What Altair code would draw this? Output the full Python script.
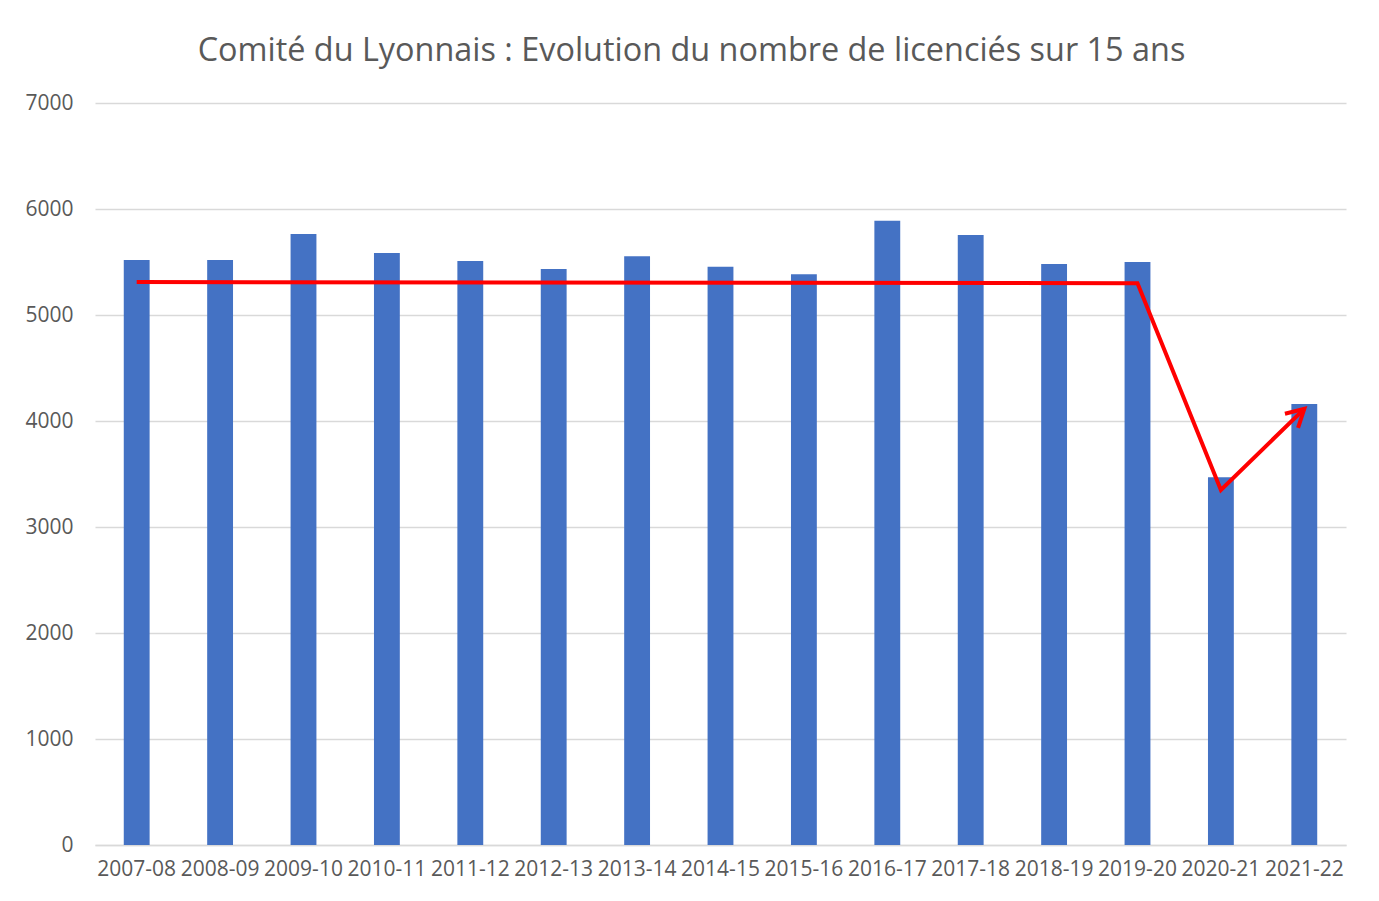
import altair as alt
import pandas as pd

saisons = ["2007-08", "2008-09", "2009-10", "2010-11", "2011-12", "2012-13", "2013-14",
           "2014-15", "2015-16", "2016-17", "2017-18", "2018-19", "2019-20", "2020-21", "2021-22"]
licencies = [5520, 5520, 5765, 5585, 5510, 5435, 5555, 5455, 5385, 5890, 5755, 5480, 5500, 3470, 4160]

tendance_saisons = ["2007-08", "2019-20", "2020-21", "2021-22"]
tendance_valeurs = [5311, 5300, 3350, 4115]

bars_df = pd.DataFrame({"saison": saisons, "licencies": licencies})
trend_df = pd.DataFrame({"saison": tendance_saisons, "valeur": tendance_valeurs,
                         "ordre": list(range(len(tendance_saisons)))})
tip_df = trend_df.tail(1)

FONT = "Open Sans"
GREY = "#595959"

x_enc = alt.X("saison:N", sort=saisons, title=None,
              scale=alt.Scale(domain=saisons, paddingInner=0.69, paddingOuter=0.345),
              axis=alt.Axis(labelAngle=0, labelFontSize=21, labelColor=GREY, labelFont=FONT,
                            ticks=False, domain=True, domainColor="#d9d9d9", domainWidth=1.5,
                            labelPadding=13, grid=False))
y_enc_scale = alt.Scale(domain=[0, 7000], nice=False)

bars = alt.Chart(bars_df).mark_bar(color="#4472C4").encode(
    x=x_enc,
    y=alt.Y("licencies:Q", scale=y_enc_scale, title=None,
            axis=alt.Axis(values=[0, 1000, 2000, 3000, 4000, 5000, 6000, 7000], format="d",
                          labelFontSize=21, labelColor=GREY, labelFont=FONT,
                          ticks=False, domain=False, grid=True, gridColor="#d9d9d9",
                          gridWidth=1.5, labelPadding=22)),
)

line = alt.Chart(trend_df).mark_line(color="#FF0000", strokeWidth=4, strokeJoin="miter").encode(
    x=alt.X("saison:N", sort=saisons),
    y=alt.Y("valeur:Q", scale=y_enc_scale),
    order="ordre:Q",
)

arrow = alt.Chart(tip_df).mark_point(
    shape="M -1 -0.55 L 0 0 L -1 0.55", filled=False, stroke="#FF0000",
    strokeWidth=4, size=1225, angle=317, opacity=1,
).encode(
    x=alt.X("saison:N", sort=saisons),
    y=alt.Y("valeur:Q", scale=y_enc_scale),
)

chart = alt.layer(bars, line, arrow).properties(
    width=1251,
    height=742,
    background="white",
    autosize=alt.AutoSizeParams(type="none"),
    padding={"left": 87, "top": 95, "right": 25, "bottom": 50},
    title=alt.TitleParams(
        "Comité du Lyonnais : Evolution du nombre de licenciés sur 15 ans",
        font=FONT, fontSize=32.4, fontWeight="normal", color=GREY,
        anchor="middle", frame="group", baseline="alphabetic", offset=-1, dx=-29,
    ),
).configure_view(strokeWidth=0, stroke="transparent").configure_axisX(grid=False)

chart.save("out.html", embed_options={"renderer": "svg", "actions": False})
